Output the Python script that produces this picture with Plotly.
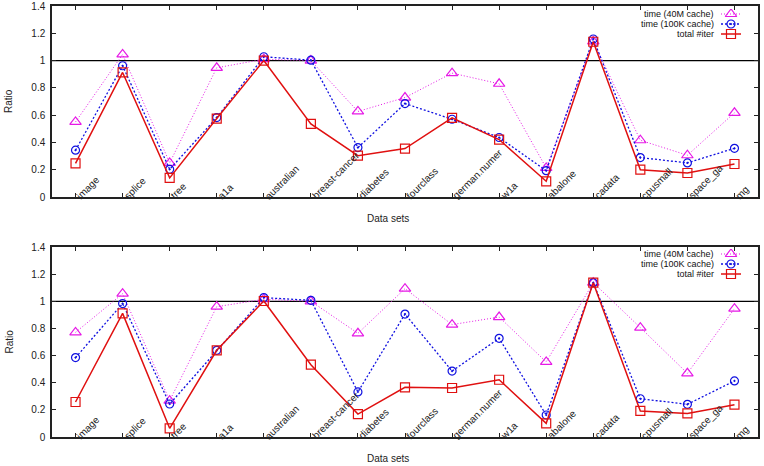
import plotly.graph_objects as go

categories = ["image", "splice", "tree", "a1a", "australian", "breast-cancer", "diabetes",
              "fourclass", "german.numer", "w1a", "abalone", "cadata", "cpusmall", "space_ga", "mg"]

# top panel
top_time40m = [0.55, 1.045, 0.25, 0.947, 1.01, 1.0, 0.627, 0.729, 0.908, 0.83, 0.213, 1.14, 0.416, 0.306, 0.617]
top_time100k = [0.343, 0.962, 0.203, 0.582, 1.028, 1.003, 0.362, 0.685, 0.570, 0.436, 0.193, 1.158, 0.289, 0.25, 0.357]
top_iter = [0.247, 0.913, 0.14, 0.575, 1.0, 0.536, 0.303, 0.355, 0.58, 0.421, 0.115, 1.138, 0.20, 0.176, 0.242]

# bottom panel
bot_time40m = [0.771, 1.056, 0.268, 0.96, 1.015, 1.0, 0.764, 1.093, 0.828, 0.884, 0.553, 1.137, 0.806, 0.469, 0.946]
bot_time100k = [0.585, 0.983, 0.243, 0.639, 1.027, 1.007, 0.332, 0.906, 0.486, 0.727, 0.162, 1.137, 0.282, 0.241, 0.413]
bot_iter = [0.258, 0.911, 0.064, 0.639, 1.002, 0.533, 0.169, 0.366, 0.361, 0.422, 0.101, 1.137, 0.192, 0.174, 0.238]

series_names = ["time (40M cache)", "time (100K cache)", "total #iter"]
y_ticks = [0, 0.2, 0.4, 0.6, 0.8, 1, 1.2, 1.4]
ref_value = 1.0

W, H = 764, 466
FONT = "Liberation Sans, Arial, sans-serif"

styles = [
    dict(color="#e619e6", dash="1px,2px", width=1, symbol="triangle-up-open", size=10),
    dict(color="#1010e0", dash="2px,2px", width=1.3, symbol="circle-open-dot", size=8),
    dict(color="#e01010", dash="solid", width=1.5, symbol="square-open", size=9),
]

fig = go.Figure()

def px_x(p):
    return p / W

def px_y(p):
    return 1 - p / H

panels = [
    dict(data=[top_time40m, top_time100k, top_iter], xa="x", ya="y", top=6, bottom=197,
         leg_xa="x3", leg_ya="y3"),
    dict(data=[bot_time40m, bot_time100k, bot_iter], xa="x2", ya="y2", top=247, bottom=437,
         leg_xa="x4", leg_ya="y4"),
]

annotations = []
shapes = []
for pi, p in enumerate(panels):
    for si, vals in enumerate(p["data"]):
        s = styles[si]
        fig.add_trace(go.Scatter(
            x=categories, y=vals, mode="lines+markers", xaxis=p["xa"], yaxis=p["ya"],
            line=dict(color=s["color"], dash=s["dash"], width=s["width"]),
            marker=dict(symbol=s["symbol"], size=s["size"], color=s["color"],
                        line=dict(color=s["color"], width=1.2)),
            showlegend=False, name=series_names[si]))
        # legend sample
        row = 2.5 - si
        fig.add_trace(go.Scatter(
            x=[0, 0.5, 1], y=[row, row, row], mode="lines", xaxis=p["leg_xa"], yaxis=p["leg_ya"],
            line=dict(color=s["color"], dash=s["dash"], width=s["width"]), showlegend=False,
            hoverinfo="skip"))
        fig.add_trace(go.Scatter(
            x=[0.5], y=[row], mode="markers", xaxis=p["leg_xa"], yaxis=p["leg_ya"],
            marker=dict(symbol=s["symbol"], size=s["size"], color=s["color"],
                        line=dict(color=s["color"], width=1.2)),
            showlegend=False, hoverinfo="skip"))
        annotations.append(dict(
            text=series_names[si], xref="paper", x=px_x(716), xanchor="right",
            yref=p["leg_ya"], y=row, yanchor="middle", showarrow=False,
            font=dict(family=FONT, size=9, color="#111")))
    # category labels
    for c in categories:
        annotations.append(dict(
            text=c, xref=p["xa"], x=c, yref=p["ya"], y=0, textangle=-45,
            xanchor="left", yanchor="bottom", xshift=-4, yshift=-7, showarrow=False,
            font=dict(family=FONT, size=10, color="#222")))
    # axis titles
    mid = (p["top"] + p["bottom"]) / 2
    annotations.append(dict(text="Ratio", xref="paper", x=px_x(8.5), yref="paper", y=px_y(mid),
                            textangle=-90, showarrow=False, xanchor="center", yanchor="middle",
                            font=dict(family=FONT, size=10, color="#222")))
    annotations.append(dict(text="Data sets", xref="paper", x=px_x(388), yref="paper",
                            y=px_y(p["bottom"] + 21), showarrow=False, xanchor="center",
                            yanchor="middle", font=dict(family=FONT, size=10, color="#222")))
    shapes.append(dict(type="line", xref=p["xa"] + " domain", x0=0, x1=1, yref=p["ya"],
                       y0=ref_value, y1=ref_value, line=dict(color="black", width=1.2),
                       layer="below"))

xdom = [px_x(52), px_x(758)]
axis_common = dict(showline=True, linecolor="#222", linewidth=1.5, mirror="ticks", ticks="inside",
                   ticklen=4, tickcolor="#222", showgrid=False, zeroline=False, automargin=False)

leg_common = dict(visible=False, showgrid=False, zeroline=False, fixedrange=True, automargin=False)

fig.update_layout(
    width=W, height=H, margin=dict(l=0, r=0, t=0, b=0, pad=0, autoexpand=False),
    paper_bgcolor="white", plot_bgcolor="rgba(0,0,0,0)",
    font=dict(family=FONT, size=10, color="#222"),
    xaxis=dict(domain=xdom, anchor="y", type="category", range=[-0.5, len(categories) - 0.5],
               showticklabels=False, **axis_common),
    yaxis=dict(domain=[px_y(197), px_y(6)], anchor="x", range=[0, 1.4], tickvals=y_ticks,
               tickfont=dict(size=10), ticklabelstandoff=3, **axis_common),
    xaxis2=dict(domain=xdom, anchor="y2", type="category", range=[-0.5, len(categories) - 0.5],
                showticklabels=False, **axis_common),
    yaxis2=dict(domain=[px_y(437), px_y(247)], anchor="x2", range=[0, 1.4], tickvals=y_ticks,
                tickfont=dict(size=10), ticklabelstandoff=3, **axis_common),
    xaxis3=dict(domain=[px_x(721), px_x(741)], anchor="y3", range=[0, 1], **leg_common),
    yaxis3=dict(domain=[px_y(9 + 30), px_y(9)], anchor="x3", range=[0, 3], **leg_common),
    xaxis4=dict(domain=[px_x(721), px_x(741)], anchor="y4", range=[0, 1], **leg_common),
    yaxis4=dict(domain=[px_y(249 + 30), px_y(249)], anchor="x4", range=[0, 3], **leg_common),
    annotations=annotations, shapes=shapes, showlegend=False,
)

fig.write_html("out.html")
